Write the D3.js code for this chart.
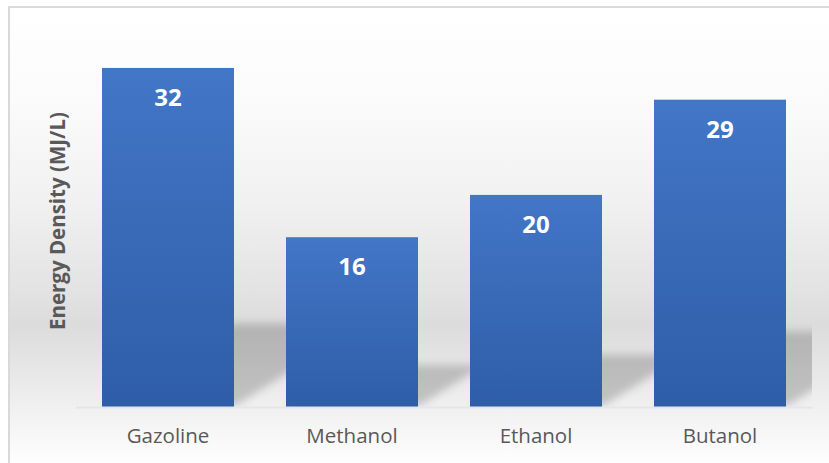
<!DOCTYPE html>
<html>
<head>
<meta charset="utf-8">
<script src="https://cdn.jsdelivr.net/npm/d3@7"></script>
<style>
  html, body { margin: 0; padding: 0; background: #ffffff; }
  svg { display: block; }
</style>
</head>
<body>
<script>
// Fuel categories and their volumetric energy density (MJ/L)
const categories = ["Gazoline", "Methanol", "Ethanol", "Butanol"];
const energyDensity = [32, 16, 20, 29];
const yDomain = [0, 35];
const yTitle = "Energy Density (MJ/L)";

const W = 829, H = 463;
const plot = { left: 76, right: 812, top: 36.2, bottom: 406.5 };

const svg = d3.select("body").append("svg")
  .attr("width", W).attr("height", H);

const defs = svg.append("defs");

// chart-area background: white at the top, soft grey band, fading out again
const bg = defs.append("linearGradient").attr("id", "bgGrad")
  .attr("gradientUnits", "userSpaceOnUse")
  .attr("x1", 0).attr("y1", 7).attr("x2", 0).attr("y2", H);
[[7, "#ffffff"], [100, "#fbfbfb"], [200, "#f1f1f1"], [290, "#e3e3e3"],
 [325, "#dcdcdc"], [360, "#e4e4e4"], [406, "#f0f0f0"], [463, "#fefefe"]]
  .forEach(([y, c]) => bg.append("stop")
    .attr("offset", ((y - 7) / (H - 7))).attr("stop-color", c));

// bar fill: lighter blue at the top, deeper at the base
const barGrad = defs.append("linearGradient").attr("id", "barGrad")
  .attr("x1", 0).attr("y1", 0).attr("x2", 0).attr("y2", 1);
barGrad.append("stop").attr("offset", 0).attr("stop-color", "#4276c7");
barGrad.append("stop").attr("offset", 1).attr("stop-color", "#2f5da8");

defs.append("filter").attr("id", "soft")
  .attr("x", "-20%").attr("y", "-20%").attr("width", "140%").attr("height", "140%")
  .append("feGaussianBlur").attr("stdDeviation", 4);

defs.append("clipPath").attr("id", "plotClip")
  .append("rect")
  .attr("x", plot.left).attr("y", plot.top)
  .attr("width", plot.right - plot.left).attr("height", plot.bottom - plot.top);

// chart frame
svg.append("rect")
  .attr("x", 9).attr("y", 7).attr("width", W + 10).attr("height", H + 10)
  .attr("fill", "url(#bgGrad)")
  .attr("stroke", "#d9d9d9").attr("stroke-width", 2);

const x = d3.scaleBand()
  .domain(categories)
  .range([plot.left, plot.right])
  .paddingInner(52 / 184)
  .paddingOuter(26 / 184);

const y = d3.scaleLinear().domain(yDomain).range([plot.bottom, plot.top]);

const rows = categories.map((c, i) => ({ cat: c, v: energyDensity[i] }));

// perspective shadows cast up and to the right of each bar
const shadowDepth = 0.245, shadowSkew = 1.6;
svg.append("g").attr("clip-path", "url(#plotClip)")
  .append("g").attr("filter", "url(#soft)")
  .selectAll("path").data(rows).join("path")
  .attr("d", d => {
    const x0 = x(d.cat), x1 = x0 + x.bandwidth();
    const base = y(0);
    const u = (y(0) - y(d.v)) * shadowDepth;
    const dx = u * shadowSkew;
    return `M${x0},${base}L${x1},${base}L${x1 + dx},${base - u}L${x0 + dx},${base - u}Z`;
  })
  .attr("fill", "#000").attr("fill-opacity", 0.19);

// faint baseline
svg.append("line")
  .attr("x1", plot.left).attr("x2", plot.right)
  .attr("y1", plot.bottom + 1).attr("y2", plot.bottom + 1)
  .attr("stroke", "#e6e6e6").attr("stroke-width", 2);

// bars
svg.append("g").selectAll("rect").data(rows).join("rect")
  .attr("x", d => x(d.cat))
  .attr("y", d => y(d.v))
  .attr("width", x.bandwidth())
  .attr("height", d => y(0) - y(d.v))
  .attr("fill", "url(#barGrad)");

// value labels inside the bars
svg.append("g").selectAll("text").data(rows).join("text")
  .attr("x", d => x(d.cat) + x.bandwidth() / 2)
  .attr("y", d => y(d.v) + 38)
  .attr("text-anchor", "middle")
  .attr("fill", "#ffffff")
  .attr("font-family", "'Open Sans', sans-serif")
  .attr("font-weight", "bold")
  .attr("font-size", 24)
  .text(d => d.v);

// category axis
const xAxis = svg.append("g")
  .attr("transform", `translate(0,${plot.bottom})`)
  .call(d3.axisBottom(x).tickSize(0).tickPadding(22));
xAxis.select(".domain").remove();
xAxis.selectAll("text")
  .attr("fill", "#595959")
  .attr("font-family", "'Open Sans', sans-serif")
  .attr("font-size", 20.5);

// value axis title
svg.append("text")
  .attr("transform", "translate(65,221) rotate(-90)")
  .attr("text-anchor", "middle")
  .attr("fill", "#595959")
  .attr("font-family", "'Open Sans', sans-serif")
  .attr("font-weight", "bold")
  .attr("font-size", 20.5)
  .text(yTitle);
</script>
</body>
</html>
